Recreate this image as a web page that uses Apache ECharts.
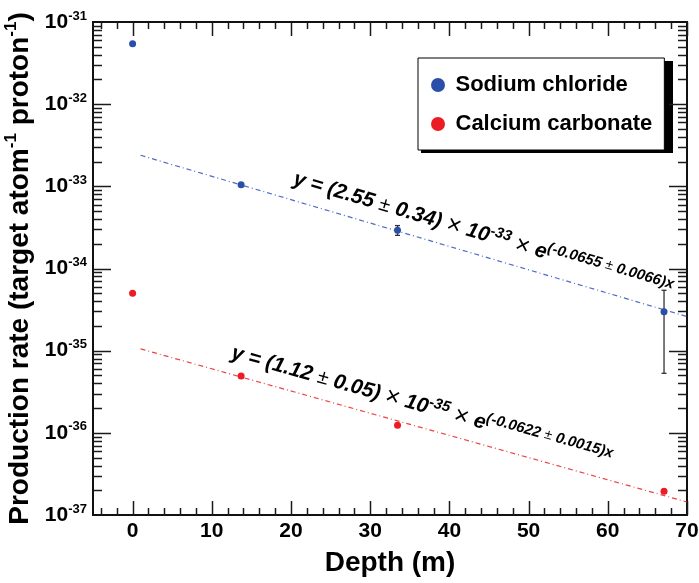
<!DOCTYPE html>
<html>
<head>
<meta charset="utf-8">
<script src="https://cdn.jsdelivr.net/npm/echarts@6/dist/echarts.min.js"></script>
<style>
  html, body { margin: 0; padding: 0; background: #fff; }
  #chart { width: 699px; height: 583px; }
</style>
</head>
<body>
<div id="chart"></div>
<script>
// Sample depths (m)
const depths = [0, 13.7, 33.45, 67.1];
// Production rate, target atom^-1 proton^-1
const sodiumChloride = [5.44e-32, 1.047e-33, 2.93e-34, 2.98e-35];
const sodiumChlorideErr = [0, 0, 0.40e-34, 2.45e-35];
const calciumCarbonate = [4.99e-35, 4.92e-36, 1.235e-36, 1.95e-37];
const calciumCarbonateErr = [0, 0, 0, 0];
// Exponential fits: [mantissa, mantissa error, power of ten, slope, slope error]
const sodiumChlorideFit = [2.55, 0.34, -33, -0.0655, 0.0066];
const calciumCarbonateFit = [1.12, 0.05, -35, -0.0622, 0.0015];
const fitRange = [1, 70];
// Depth where each fit label starts
const fitLabelStart = [19.6, 11.8];
// Axis ticks
const xMajorTicks = [0, 10, 20, 30, 40, 50, 60, 70];
const xMinorStep = 2;
const yDecades = [-37, -36, -35, -34, -33, -32, -31];
const xRange = [-5, 70];

// Values are plotted in units of 1e-37 so the log scale keeps its precision
const UNIT_EXP = -37;
const UNIT = Math.pow(10, UNIT_EXP);

const BLUE = '#2b4fa8';
const RED = '#ec1c24';
const FONT = '"Liberation Sans", Arial, Helvetica, sans-serif';

// Legend box placement (pixels)
const LEGEND_BOX = { left: 418, top: 58, width: 252, height: 92 };

function fitValue(fit, x) {
  return fit[0] * Math.pow(10, fit[2]) * Math.exp(fit[3] * x);
}
function scaled(v) { return v / UNIT; }

function fitLabelText(fit) {
  return '{m|y = (' + fit[0].toFixed(2) + ' }{o|\u00b1}{m| ' + fit[1].toFixed(2) + ') }{x|\u00d7}{m| 10}{s|' + fit[2] +
    '}{m| }{x|\u00d7}{m| e}{s|(' + fit[3].toFixed(4) + ' }{so|\u00b1}{s| ' + fit[4].toFixed(4) + ')x}';
}

const labelRich = {
  m: { fontSize: 21, fontWeight: 'bold', fontStyle: 'italic', fontFamily: FONT, fill: '#000', lineHeight: 26 },
  o: { fontSize: 20, fontWeight: 'normal', fontFamily: FONT, fill: '#000', lineHeight: 26 },
  x: { fontSize: 25, fontWeight: 'normal', fontFamily: FONT, fill: '#000', lineHeight: 26 },
  s: { fontSize: 15, fontWeight: 'bold', fontStyle: 'italic', fontFamily: FONT, fill: '#000', lineHeight: 15, verticalAlign: 'top' },
  so: { fontSize: 14, fontWeight: 'normal', fontFamily: FONT, fill: '#000', lineHeight: 15, verticalAlign: 'top' }
};

function fitLabelSeries(fit, startX) {
  return {
    type: 'custom',
    silent: true,
    z: 5,
    data: [[startX, scaled(fitValue(fit, startX))]],
    renderItem: function (params, api) {
      const x0 = api.value(0);
      const p0 = api.coord([x0, scaled(fitValue(fit, x0))]);
      const p1 = api.coord([x0 + 10, scaled(fitValue(fit, x0 + 10))]);
      const ang = Math.atan2(p1[1] - p0[1], p1[0] - p0[0]);
      const off = 21;
      return {
        type: 'text',
        x: p0[0] + off * Math.sin(ang),
        y: p0[1] - off * Math.cos(ang),
        rotation: -ang,
        style: {
          text: fitLabelText(fit),
          rich: labelRich,
          align: 'left',
          verticalAlign: 'middle'
        }
      };
    }
  };
}

function fitLineSeries(fit, color) {
  return {
    type: 'line',
    silent: true,
    showSymbol: false,
    z: 2,
    lineStyle: { color: color, width: 1.2, type: [5, 3, 1, 3], opacity: 0.9 },
    data: fitRange.map(function (x) { return [x, scaled(fitValue(fit, x))]; })
  };
}

function errorBarSeries(values, errs) {
  const data = [];
  depths.forEach(function (d, i) {
    if (errs[i] > 0) data.push([d, scaled(values[i]), scaled(values[i] - errs[i]), scaled(values[i] + errs[i])]);
  });
  return {
    type: 'custom',
    silent: true,
    z: 3,
    data: data,
    renderItem: function (params, api) {
      const lo = api.coord([api.value(0), api.value(2)]);
      const hi = api.coord([api.value(0), api.value(3)]);
      const st = { stroke: '#333', lineWidth: 1.3 };
      return {
        type: 'group',
        children: [
          { type: 'line', shape: { x1: lo[0], y1: lo[1], x2: hi[0], y2: hi[1] }, style: st },
          { type: 'line', shape: { x1: lo[0] - 2.5, y1: lo[1], x2: lo[0] + 2.5, y2: lo[1] }, style: st },
          { type: 'line', shape: { x1: hi[0] - 2.5, y1: hi[1], x2: hi[0] + 2.5, y2: hi[1] }, style: st }
        ]
      };
    }
  };
}

// Inward ticks on all four sides of the frame
const tickSeries = {
  type: 'custom',
  silent: true,
  z: 4,
  data: [[0, 1]],
  renderItem: function (params, api) {
    const cs = params.coordSys;
    const left = cs.x, right = cs.x + cs.width, top = cs.y, bottom = cs.y + cs.height;
    const yRef = 1;
    const children = [];
    const st = { stroke: '#1a1a1a', lineWidth: 1.5 };
    function seg(x1, y1, x2, y2) {
      children.push({ type: 'line', shape: { x1: x1, y1: y1, x2: x2, y2: y2 }, style: st });
    }
    function xTick(v, len) {
      const px = Math.round(api.coord([v, yRef])[0]) + 0.5;
      seg(px, bottom, px, bottom - len);
      seg(px, top, px, top + len);
    }
    function yTick(v, len) {
      const py = Math.round(api.coord([0, v])[1]) + 0.5;
      seg(left, py, left + len, py);
      seg(right, py, right - len, py);
    }
    xMajorTicks.forEach(function (v) { xTick(v, 14); });
    for (let v = xMajorTicks[0] - xMinorStep * 2; v < xRange[1]; v += xMinorStep) {
      if (v > xRange[0] && xMajorTicks.indexOf(v) < 0) xTick(v, 7);
    }
    yDecades.forEach(function (e, i) {
      const base = Math.pow(10, e - UNIT_EXP);
      if (e > yDecades[0] && e < yDecades[yDecades.length - 1]) yTick(base, 18);
      if (i < yDecades.length - 1) {
        for (let k = 2; k <= 9; k++) yTick(base * k, 9);
      }
    });
    return { type: 'group', children: children };
  }
};

const chart = echarts.init(document.getElementById('chart'), null, { renderer: 'canvas' });

chart.setOption({
  animation: false,
  backgroundColor: '#fff',
  grid: {
    left: 93, right: 12, top: 22, bottom: 68,
    containLabel: false,
    outerBoundsMode: 'none',
    show: true,
    borderColor: '#111',
    borderWidth: 2,
    backgroundColor: 'transparent'
  },
  // Hard drop shadow behind the legend box
  graphic: [{
    type: 'rect',
    left: LEGEND_BOX.left + 3,
    top: LEGEND_BOX.top + 3,
    z: 0,
    silent: true,
    shape: { width: LEGEND_BOX.width, height: LEGEND_BOX.height },
    style: { fill: '#000' }
  }],
  legend: {
    orient: 'vertical',
    left: LEGEND_BOX.left,
    top: LEGEND_BOX.top,
    padding: [16, 12, 15, 13],
    itemGap: 17,
    itemWidth: 25,
    itemHeight: 14,
    icon: 'circle',
    z: 10,
    backgroundColor: '#fff',
    borderColor: '#000',
    borderWidth: 1,
    borderRadius: 0,
    textStyle: { fontFamily: FONT, fontSize: 22, fontWeight: 'bold', color: '#000' },
    data: ['Sodium chloride', 'Calcium carbonate']
  },
  xAxis: {
    type: 'value',
    min: xRange[0],
    max: xRange[1],
    splitNumber: 8,
    name: 'Depth (m)',
    nameLocation: 'middle',
    nameGap: 34,
    nameTextStyle: { fontFamily: FONT, fontSize: 28, fontWeight: 'bold', color: '#000' },
    axisLine: { show: false },
    axisTick: { show: false },
    splitLine: { show: false },
    axisLabel: {
      margin: 6,
      fontFamily: FONT, fontSize: 21, fontWeight: 'bold', color: '#000',
      formatter: function (v) { return xMajorTicks.indexOf(v) >= 0 ? String(v) : ''; }
    }
  },
  yAxis: {
    type: 'log',
    logBase: 10,
    min: Math.pow(10, yDecades[0] - UNIT_EXP),
    max: Math.pow(10, yDecades[yDecades.length - 1] - UNIT_EXP),
    name: '{t|Production rate (target atom}{s|-1}{t| proton}{s|-1}{t|)}',
    nameLocation: 'middle',
    nameRotate: 90,
    nameGap: 46,
    nameTextStyle: {
      rich: {
        t: { fontFamily: FONT, fontSize: 28, fontWeight: 'bold', color: '#000', lineHeight: 34 },
        s: { fontFamily: FONT, fontSize: 17, fontWeight: 'bold', color: '#000', lineHeight: 17, verticalAlign: 'top' }
      }
    },
    axisLine: { show: false },
    axisTick: { show: false },
    splitLine: { show: false },
    axisLabel: {
      margin: 6,
      formatter: function (v) {
        const e = Math.round(Math.log10(v)) + UNIT_EXP;
        return '{m|10}{s|' + e + '}';
      },
      rich: {
        m: { fontFamily: FONT, fontSize: 21, fontWeight: 'bold', color: '#000', lineHeight: 25 },
        s: { fontFamily: FONT, fontSize: 13, fontWeight: 'bold', color: '#000', lineHeight: 13, verticalAlign: 'top' }
      }
    }
  },
  series: [
    fitLineSeries(sodiumChlorideFit, '#3a5cc0'),
    fitLineSeries(calciumCarbonateFit, '#e83030'),
    errorBarSeries(sodiumChloride, sodiumChlorideErr),
    errorBarSeries(calciumCarbonate, calciumCarbonateErr),
    {
      name: 'Sodium chloride',
      type: 'scatter',
      symbol: 'circle',
      symbolSize: 7,
      z: 6,
      itemStyle: { color: BLUE, opacity: 1 },
      data: depths.map(function (d, i) { return [d, scaled(sodiumChloride[i])]; })
    },
    {
      name: 'Calcium carbonate',
      type: 'scatter',
      symbol: 'circle',
      symbolSize: 7,
      z: 6,
      itemStyle: { color: RED, opacity: 1 },
      data: depths.map(function (d, i) { return [d, scaled(calciumCarbonate[i])]; })
    },
    fitLabelSeries(sodiumChlorideFit, fitLabelStart[0]),
    fitLabelSeries(calciumCarbonateFit, fitLabelStart[1]),
    tickSeries
  ]
});
</script>
</body>
</html>
